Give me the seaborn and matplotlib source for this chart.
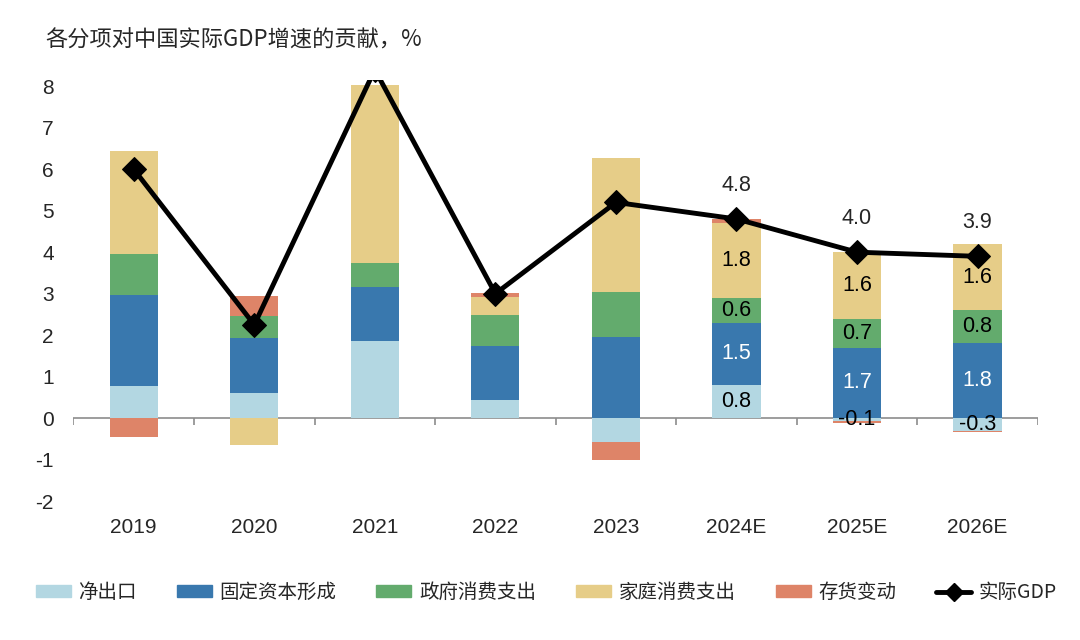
import numpy as np
import pandas as pd
import seaborn as sns
import matplotlib.pyplot as plt
from matplotlib.patches import Patch
from matplotlib.lines import Line2D

# Data
years = ['2019', '2020', '2021', '2022', '2023', '2024E', '2025E', '2026E']
net_exports = [0.77, 0.60, 1.86, 0.43, -0.58, 0.8, -0.08, -0.3]
fixed_capital = [2.20, 1.33, 1.30, 1.31, 1.96, 1.5, 1.7, 1.8]
gov_consumption = [0.99, 0.53, 0.58, 0.75, 1.08, 0.6, 0.7, 0.8]
household = [2.49, -0.65, 4.28, 0.43, 3.22, 1.8, 1.6, 1.6]
inventory = [-0.46, 0.49, 0.0, 0.10, -0.43, 0.1, -0.03, -0.03]
real_gdp = [6.0, 2.25, 8.4, 3.0, 5.2, 4.8, 4.0, 3.9]

series_names = ['净出口', '固定资本形成', '政府消费支出', '家庭消费支出', '存货变动']
colors = ['#b3d7e2', '#3978ae', '#63ab6d', '#e6cd88', '#de8468']
label_colors = ['black', 'white', 'black', 'black', None]
labelled_years = ['2024E', '2025E', '2026E']

df = pd.DataFrame({'year': years, '净出口': net_exports, '固定资本形成': fixed_capital,
                   '政府消费支出': gov_consumption, '家庭消费支出': household,
                   '存货变动': inventory, '实际GDP': real_gdp})

sns.set_theme(style='white')
plt.rcParams['font.family'] = ['Liberation Sans', 'Noto Sans CJK SC', 'DejaVu Sans']
plt.rcParams['axes.unicode_minus'] = False

fig, ax = plt.subplots(figsize=(10.8, 6.4), dpi=100)
fig.subplots_adjust(left=0.068, right=0.961, top=0.875, bottom=0.217)

x = np.arange(len(years))
pos_base = np.zeros(len(years))
neg_base = np.zeros(len(years))
for name, col, lc in zip(series_names, colors, label_colors):
    vals = df[name].to_numpy()
    bottom = np.where(vals >= 0, pos_base, neg_base)
    ax.bar(x, vals, bottom=bottom, width=0.4, color=col, linewidth=0, zorder=2)
    if lc is not None:
        for i, yr in enumerate(years):
            if yr in labelled_years:
                ax.text(x[i], bottom[i] + vals[i] / 2, f'{vals[i]:.1f}', ha='center',
                        va='center', fontsize=15.5, color=lc, zorder=4)
    pos_base = pos_base + np.where(vals >= 0, vals, 0)
    neg_base = neg_base + np.where(vals < 0, vals, 0)

# real GDP line
sns.lineplot(x=x, y=df['实际GDP'], ax=ax, color='black', linewidth=3.5, marker='D',
             markersize=12, markeredgecolor='black', sort=False, zorder=3)
for i, yr in enumerate(years):
    if yr in labelled_years:
        ax.annotate(f'{real_gdp[i]:.1f}', (x[i], real_gdp[i]), xytext=(0, 24),
                    textcoords='offset points', ha='center', va='center', fontsize=15.5)

ax.set_xlim(-0.5, len(years) - 0.5)
ax.set_ylim(-2, 8.15)
ax.set_yticks(range(-2, 9))
ax.tick_params(axis='y', length=0, labelsize=15, pad=14)
ax.set_xticks(x)
ax.set_xticklabels(years)
ax.tick_params(axis='x', length=0, labelsize=15, pad=12)
ax.set_ylabel('')
for s in ax.spines.values():
    s.set_visible(False)

# zero line with category separators
ax.axhline(0, color='#8c8c8c', linewidth=1.2, zorder=1)
ax.vlines(np.arange(-0.5, len(years), 1), -0.16, 0, color='#8c8c8c', linewidth=1.2, zorder=1)

fig.text(0.042, 0.937, '各分项对中国实际GDP增速的贡献，%', fontsize=16, va='center',
         family=['Noto Sans CJK SC', 'DejaVu Sans'])

handles = [Patch(color=c, label=n) for n, c in zip(series_names, colors)]
handles.append(Line2D([], [], color='black', linewidth=3.5, marker='D', markersize=9,
                      label='实际GDP'))
fig.legend(handles=handles, loc='center', bbox_to_anchor=(0.506, 0.074), ncol=6,
           frameon=False, handlelength=1.8, handleheight=0.6,
           columnspacing=2.05, handletextpad=0.4,
           prop={'family': ['Noto Sans CJK SC', 'DejaVu Sans'], 'size': 14})

fig.savefig('out.png', dpi=100)
